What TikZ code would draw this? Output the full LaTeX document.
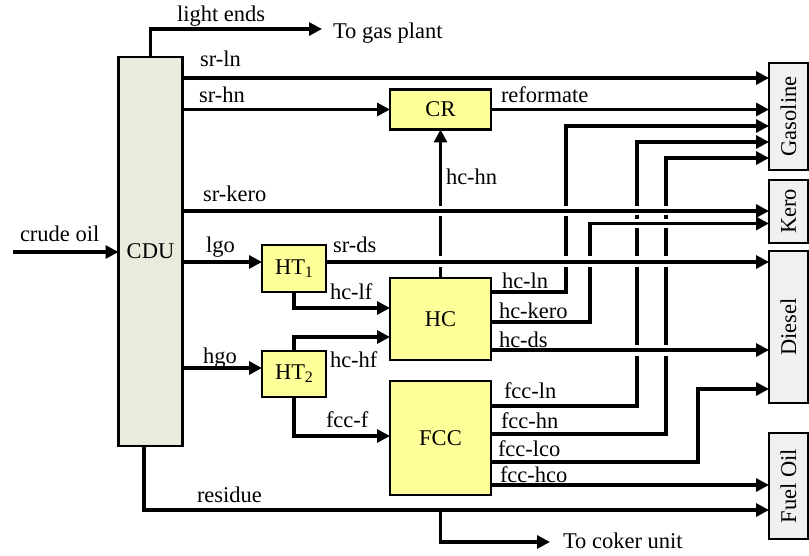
\documentclass[tikz,border=0pt]{standalone}
\usepackage{fontspec}
\setmainfont{Liberation Serif}
\usetikzlibrary{arrows.meta}
\definecolor{cdufill}{RGB}{233,236,220}
\definecolor{unityellow}{RGB}{255,255,153}
\definecolor{prodgray}{RGB}{240,240,240}
\begin{document}
\begin{tikzpicture}[x=1pt,y=-1pt,
  line width=3.1pt,
  every node/.style={font=\fontsize{22.5}{26}\selectfont, inner sep=0pt, outer sep=0pt},
  cdubox/.style={draw, line width=2.3pt, fill=cdufill},
  unit/.style={draw, line width=2.3pt, fill=unityellow},
  prod/.style={draw, line width=2.3pt, fill=prodgray},
  lbl/.style={anchor=base west},
  arr/.style={-{Triangle[length=13pt,width=13pt]}},
  jumpgap/.style={draw=white, line width=5pt}
]
\useasboundingbox (0,0) rectangle (809,556);
\newcommand{\sub}[1]{\raisebox{-0.3ex}{\fontsize{16}{16}\selectfont #1}}

% ---- units ----
\node[cdubox, minimum width=64pt, minimum height=389pt] (cdu) at (150.5,251.5) {CDU};
\node[unit, minimum width=101pt, minimum height=40pt] (cr) at (440.5,109.5) {CR};
\node[unit, minimum width=101pt, minimum height=82pt] (hc) at (440.5,319) {HC};
\node[unit, minimum width=101pt, minimum height=114pt] (fcc) at (440.5,438) {FCC};
\node[unit, minimum width=64pt, minimum height=47pt] (ht1) at (294,268.5) {HT\sub{1}};
\node[unit, minimum width=64pt, minimum height=46pt] (ht2) at (294,374) {HT\sub{2}};

% ---- products ----
\node[prod, minimum width=39pt, minimum height=107pt] (gas) at (788.5,116.5) {};
\node[prod, minimum width=39pt, minimum height=63pt] (kero) at (788.5,211.5) {};
\node[prod, minimum width=39pt, minimum height=152pt] (dsl) at (788.5,327) {};
\node[prod, minimum width=39pt, minimum height=106pt] (fo) at (788.5,486) {};
\node[rotate=90] (gastxt) at (gas.center) {Gasoline};
\node[rotate=90] (kerotxt) at (kero.center) {Kero};
\node[rotate=90] (dsltxt) at (dsl.center) {Diesel};
\node[rotate=90] (fotxt) at (fo.center) {Fuel Oil};

% ---- levels ----
\coordinate (yLE) at (0,29);
\coordinate (yGasEnd) at (322,0);
\coordinate (ySrLn) at (0,78);
\coordinate (yHcLn) at (0,126);
\coordinate (yFccLn) at (0,142);
\coordinate (yFccHn) at (0,158);
\coordinate (ySrKero) at (0,211);
\coordinate (yHcKero) at (0,223.5);
\coordinate (yCrude) at (0,252);
\coordinate (xCrude) at (13,0);
\coordinate (yLgo) at (0,262);
\coordinate (yHcLnOut) at (0,292);
\coordinate (yHcLf) at (0,308);
\coordinate (yHcKeroOut) at (0,322);
\coordinate (yHcHf) at (0,337);
\coordinate (yHcDs) at (0,350);
\coordinate (yHgo) at (0,368);
\coordinate (yFccLco) at (0,389);
\coordinate (yFccLnOut) at (0,406);
\coordinate (yFccHnOut) at (0,434);
\coordinate (yFccF) at (0,436);
\coordinate (yFccLcoOut) at (0,462);
\coordinate (yFccHco) at (0,485);
\coordinate (yRes) at (0,510);
\coordinate (yCoker) at (0,542);
\coordinate (xCokerEnd) at (550,0);
\coordinate (xRes) at (144,0);
\coordinate (xHcLn) at (566,0);
\coordinate (xHcKero) at (590,0);
\coordinate (xFccLn) at (637,0);
\coordinate (xFccHn) at (666,0);
\coordinate (xFccLco) at (698,0);

% ---- plain feeds ----
\draw[arr] (cdu.north) |- (yGasEnd |- yLE) coordinate (gasplant);
\draw[arr] (xCrude |- yCrude) -- (cdu.west |- yCrude);
\draw[arr] (cdu.east |- ySrLn) -- (gas.west |- ySrLn);
\draw[arr] (cdu.east |- cr.west) -- (cr.west);
\draw[arr] (cr.east) -- (gas.west |- cr.east);
\draw[arr] (cdu.east |- yHgo) -- (ht2.west |- yHgo);
\draw[arr] (ht1.south) |- (hc.west |- yHcLf);
\draw[arr] (ht2.north) |- (hc.west |- yHcHf);
\draw[arr] (ht2.south) |- (fcc.west |- yFccF);
\draw[arr] (xRes |- cdu.south) |- (fo.west |- yRes);
\draw[arr] (hc.south |- yRes) |- (xCokerEnd |- yCoker) coordinate (coker);
\draw[arr] (fcc.east |- yFccHco) -- (fo.west |- yFccHco);
\draw[arr] (fcc.east |- yFccLcoOut) -| (xFccLco |- yFccLco) -- (dsl.west |- yFccLco);

% ---- routes that get crossed ----
\draw[arr] (hc.north) -- (cr.south);
\draw[arr] (hc.east |- yHcLnOut) -| (xHcLn |- yHcLn) -- (gas.west |- yHcLn);
\draw[arr] (fcc.east |- yFccLnOut) -| (xFccLn |- yFccLn) -- (gas.west |- yFccLn);
\draw[arr] (fcc.east |- yFccHnOut) -| (xFccHn |- yFccHn) -- (gas.west |- yFccHn);

% gaps (line jumps)
\foreach \xx in {hc.north, xHcLn}{
  \draw[jumpgap] ([yshift=5pt]\xx |- ySrKero) -- ([yshift=-5pt]\xx |- ySrKero);
  \draw[jumpgap] ([yshift=5.5pt]\xx |- yLgo) -- ([yshift=-5.5pt]\xx |- yLgo);
}
\foreach \xx in {xFccLn, xFccHn}{
  \draw[jumpgap] ([yshift=5pt]\xx |- ySrKero) -- ([yshift=-4pt]\xx |- ySrKero);
  \draw[jumpgap] ([yshift=4pt]\xx |- yHcKero) -- ([yshift=-4.5pt]\xx |- yHcKero);
  \draw[jumpgap] ([yshift=5.5pt]\xx |- yLgo) -- ([yshift=-5.5pt]\xx |- yLgo);
  \draw[jumpgap] ([yshift=5.5pt]\xx |- yHcDs) -- ([yshift=-5.5pt]\xx |- yHcDs);
}

\draw[arr] (hc.east |- yHcKeroOut) -| (xHcKero |- yHcKero) -- (kero.west |- yHcKero);
\draw[jumpgap] ([yshift=5.5pt]xHcKero |- yLgo) -- ([yshift=-5.5pt]xHcKero |- yLgo);

% ---- crossing horizontals ----
\draw[arr] (cdu.east |- ySrKero) -- (kero.west |- ySrKero);
\draw[arr] (cdu.east |- yLgo) -- (ht1.west |- yLgo);
\draw[arr] (ht1.east |- yLgo) -- (dsl.west |- yLgo);
\draw[arr] (hc.east |- yHcDs) -- (dsl.west |- yHcDs);

% ---- labels ----
\node[lbl] (l-le) at (177,22) {light ends};
\node[lbl] (l-gp) at (333,39) {To gas plant};
\node[lbl] (l-srln) at (200,67) {sr-ln};
\node[lbl] (l-srhn) at (199,103) {sr-hn};
\node[lbl] (l-ref) at (501,103) {reformate};
\node[lbl] (l-hchn) at (446,185) {hc-hn};
\node[lbl] (l-srkero) at (203,202) {sr-kero};
\node[lbl] (l-crude) at (20,242) {crude oil};
\node[lbl] (l-lgo) at (206,253) {lgo};
\node[lbl] (l-srds) at (333,253) {sr-ds};
\node[lbl] (l-hclf) at (330,300) {hc-lf};
\node[lbl] (l-hgo) at (203,363) {hgo};
\node[lbl] (l-hchf) at (330,367) {hc-hf};
\node[lbl] (l-fccf) at (326,427) {fcc-f};
\node[lbl] (l-hcln) at (502,288) {hc-ln};
\node[lbl] (l-hckero) at (499,319) {hc-kero};
\node[lbl] (l-hcds) at (499,347) {hc-ds};
\node[lbl] (l-fccln) at (504,398) {fcc-ln};
\node[lbl] (l-fcchn) at (501,428) {fcc-hn};
\node[lbl] (l-fcclco) at (498,456) {fcc-lco};
\node[lbl] (l-fcchco) at (500,482) {fcc-hco};
\node[lbl] (l-res) at (197,502) {residue};
\node[lbl] (l-coker) at (563,548) {To coker unit};
\end{tikzpicture}
\end{document}
